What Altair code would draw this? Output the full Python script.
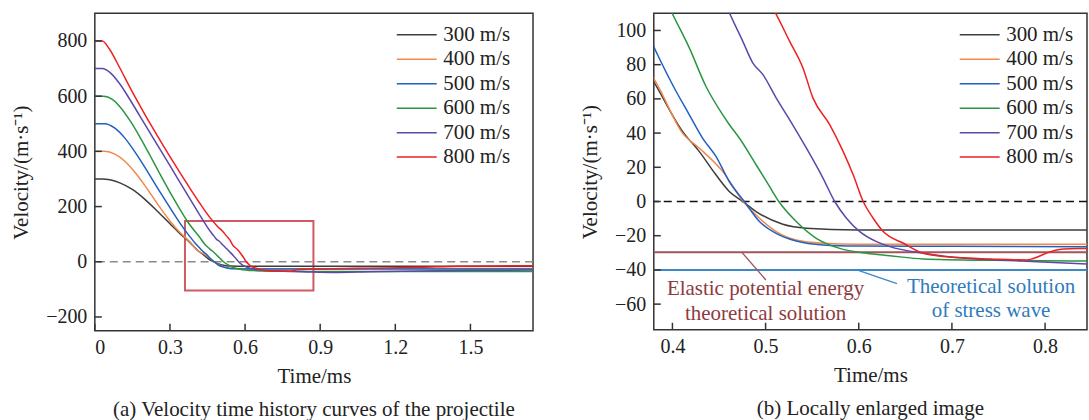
import altair as alt
import pandas as pd

FONT = "Liberation Serif"
INK = "#222222"

SPEEDS = ["300 m/s", "400 m/s", "500 m/s", "600 m/s", "700 m/s", "800 m/s"]
COLORS = ["#3d3d3d", "#f0894a", "#2060c0", "#2a9640", "#5a48aa", "#ee2020"]

# Projectile velocity histories (time in ms, velocity in m/s)
T_300 = [0, 0.03, 0.06, 0.1, 0.15, 0.2, 0.25, 0.3, 0.34, 0.3795, 0.4108, 0.4287, 0.4467,
         0.461, 0.4754, 0.4898, 0.5185, 0.5437, 0.5976, 0.7, 0.85, 1.0, 1.2, 1.4, 1.6, 1.75]
V_300 = [300, 300, 297, 286, 262, 226, 183, 138, 102, 70.4, 41, 29.3, 15.6,
         5.9, 0, -5.9, -13.3, -15.6, -16.6, -16.6, -16.6, -16.6, -16.5, -16.5, -16.5, -16.5]

T_400 = [0, 0.04, 0.08, 0.12, 0.16, 0.2, 0.25, 0.3, 0.34, 0.38, 0.3856, 0.4108, 0.4287,
         0.4539, 0.4754, 0.4934, 0.5113, 0.5329, 0.5616, 0.5976, 0.7, 0.85, 1.0, 1.2,
         1.4, 1.6, 1.75]
V_400 = [400, 400, 390, 364, 324, 276, 210, 148, 106, 72, 66.5, 40, 31.3,
         17.6, 0.4, -9.8, -17.6, -22.5, -24.4, -25, -25, -25, -25, -24.5,
         -24.5, -24.5, -24.5]

T_500 = [0, 0.04, 0.08, 0.12, 0.16, 0.2, 0.25, 0.3, 0.34, 0.3795, 0.3874, 0.4, 0.418,
         0.4323, 0.4467, 0.461, 0.4772, 0.4934, 0.5113, 0.5329, 0.5616, 0.5976, 0.7,
         0.85, 1.0, 1.2, 1.4, 1.6, 1.75]
V_500 = [500, 500, 484, 448, 398, 342, 268, 196, 140, 91, 82, 68.4, 50.8,
         37.1, 26.4, 11.7, 0, -11.7, -18.6, -23.1, -25.4, -26, -26.2,
         -26.4, -26.5, -26.5, -26.5, -26.5, -26.5]

T_600 = [0, 0.035, 0.07, 0.1, 0.14, 0.18, 0.22, 0.26, 0.3, 0.34, 0.37, 0.3993, 0.418,
         0.4359, 0.4539, 0.461, 0.4718, 0.4898, 0.5042, 0.5142, 0.5329, 0.5544, 0.5796,
         0.6083, 0.6333, 0.6694, 0.7414, 0.8477, 1.0, 1.2, 1.4, 1.6, 1.75]
V_600 = [600, 600, 588, 562, 512, 452, 386, 318, 252, 190, 146, 110.5, 90,
         67.4, 50.8, 45, 37.1, 21.5, 8.8, 0, -11.7, -21.5, -27.4,
         -30.3, -31.7, -33.6, -34.4, -34.8, -35, -35, -35, -35, -35]

T_700 = [0, 0.03, 0.06, 0.1, 0.14, 0.18, 0.22, 0.26, 0.3, 0.34, 0.38, 0.42, 0.461,
         0.4754, 0.4862, 0.497, 0.5113, 0.5257, 0.5437, 0.5616, 0.5742, 0.5868, 0.6011,
         0.6191, 0.6333, 0.6694, 0.7053, 0.7773, 0.8477, 0.95, 1.1, 1.3, 1.5, 1.75]
V_700 = [700, 700, 686, 644, 588, 528, 468, 408, 348, 288, 228, 168, 110.5,
         93.8, 81.1, 74.3, 60.6, 47.9, 31.3, 13.7, 0, -9.8, -17.6,
         -23.5, -26.4, -30.3, -32.8, -34.8, -36.6, -38.5, -36, -33, -31, -30]

T_800 = [0, 0.03, 0.06, 0.1, 0.14, 0.18, 0.22, 0.26, 0.3, 0.34, 0.38, 0.42, 0.46, 0.49,
         0.5103, 0.5257, 0.54, 0.5508, 0.5688, 0.5832, 0.594, 0.6048, 0.6155, 0.6263,
         0.6479, 0.6694, 0.7053, 0.7414, 0.7809, 0.788, 0.806, 0.82, 0.8477, 0.95, 1.1,
         1.3, 1.45, 1.6, 1.75]
V_800 = [800, 800, 768, 702, 632, 566, 502, 441, 381, 323, 266, 211, 160, 128,
         110.5, 93.8, 78.2, 60.6, 45, 29.3, 15.6, 0, -9.8, -17.6,
         -24.4, -30.3, -32.8, -33.6, -34.2, -33.2, -29.3, -27.8, -27.4, -25, -23,
         -20, -16, -15, -14]

# Theoretical rebound velocities (m/s)
ELASTIC_V = -29.6
STRESS_WAVE_V = -40.0

# Region enlarged in panel (b)
BOX_T = [0.36, 0.873]
BOX_V = [-104, 148]

# Axis ticks
XT_A = [0, 0.3, 0.6, 0.9, 1.2, 1.5]
YT_A = [-200, 0, 200, 400, 600, 800]
XT_B = [0.4, 0.5, 0.6, 0.7, 0.8]
YT_B = [-60, -40, -20, 0, 20, 40, 60, 80, 100]

# Annotation labels and leader lines in panel (b)
ELASTIC_TEXT = ["Elastic potential energy", "theoretical solution"]
ELASTIC_TEXT_T = [0.50, 0.50]
ELASTIC_TEXT_V = [-54.8, -69.2]
WAVE_TEXT = ["Theoretical solution", "of stress wave"]
WAVE_TEXT_T = [0.742, 0.742]
WAVE_TEXT_V = [-53.4, -67.4]
ELASTIC_LEADER = {"t1": [0.4743], "v1": [-29.6], "t2": [0.5003], "v2": [-45.9]}
WAVE_LEADER = {"t1": [0.598], "v1": [-40.0], "t2": [0.641], "v2": [-48.0]}
ELASTIC_TEXT_COLOR, ELASTIC_LINE_COLOR = "#8e3a40", "#a0555a"
WAVE_TEXT_COLOR, WAVE_LINE_COLOR = "#2f7bbb", "#3f87c5"

rows = []
for name, ts, vs in zip(SPEEDS, [T_300, T_400, T_500, T_600, T_700, T_800],
                        [V_300, V_400, V_500, V_600, V_700, V_800]):
    for t, v in zip(ts, vs):
        rows.append({"speed": name, "t": t, "v": v})
curves = pd.DataFrame(rows)

WA, HA = 439, 318
WB, HB = 434, 317
TICK = 7
Y_TITLE = "Velocity/(m·s⁻¹)"


def legend(x):
    # 40 px stroke drawn with a custom path so the rows stay compact
    return alt.Legend(title=None, orient="none", legendX=x, legendY=11,
                      symbolType="M-4,0H4", symbolSize=100, symbolStrokeWidth=1.5,
                      labelFont=FONT, labelFontSize=21, labelColor=INK,
                      rowPadding=2.5, labelOffset=16, padding=0)


class Panel:
    def __init__(self, xdom, ydom, xt, yt, xfmt):
        self.xs = alt.Scale(domain=xdom, nice=False, zero=False)
        self.ys = alt.Scale(domain=ydom, nice=False, zero=False)
        self.xa = alt.Axis(values=xt, format=xfmt, title="Time/ms", grid=False,
                           domain=False, ticks=False, tickSize=0, labelPadding=7,
                           titlePadding=8, labelFont=FONT, labelFontSize=20,
                           labelColor=INK, titleFont=FONT, titleFontSize=21,
                           titleFontWeight="normal", titleColor=INK)
        self.ya = alt.Axis(values=yt, format="d", title=Y_TITLE, grid=False,
                           domain=False, ticks=False, tickSize=0, labelPadding=8,
                           titlePadding=14, labelFont=FONT, labelFontSize=20,
                           labelColor=INK, titleFont=FONT, titleFontSize=21,
                           titleFontWeight="normal", titleColor=INK)

    def X(self, field):
        return alt.X(field, scale=self.xs, axis=self.xa)

    def Y(self, field):
        return alt.Y(field, scale=self.ys, axis=self.ya)


def build(p, xt, yt, w, h, legend_x, caption, dash_color, extra):
    zero = alt.Chart(pd.DataFrame({"v": [0]})).mark_rule(
        strokeDash=[8, 5], color=dash_color, strokeWidth=1.4
    ).encode(y=p.Y("v:Q"))
    lines = alt.Chart(curves).mark_line(
        strokeWidth=1.5, interpolate="monotone", clip=True
    ).encode(
        x=p.X("t:Q"),
        y=p.Y("v:Q"),
        color=alt.Color("speed:N", scale=alt.Scale(domain=SPEEDS, range=COLORS),
                        legend=legend(legend_x)),
    )
    xticks = alt.Chart(pd.DataFrame({"t": xt})).mark_rule(
        color="#333333", strokeWidth=1.5
    ).encode(x=p.X("t:Q"), y=alt.value(h), y2=alt.value(h - TICK))
    yticks = alt.Chart(pd.DataFrame({"v": yt})).mark_rule(
        color="#333333", strokeWidth=1.5
    ).encode(y=p.Y("v:Q"), x=alt.value(0), x2=alt.value(TICK))
    layers = [zero] + extra(p) + [lines, xticks, yticks]
    return alt.layer(*layers).properties(
        width=w, height=h,
        title=alt.Title(caption, orient="bottom", anchor="middle", frame="group",
                        font=FONT, fontSize=21, fontWeight="normal", color=INK,
                        offset=12),
    )


def extra_a(p):
    box = pd.DataFrame({"t1": [BOX_T[0]], "t2": [BOX_T[1]],
                        "v1": [BOX_V[0]], "v2": [BOX_V[1]]})
    return [alt.Chart(box).mark_rect(fillOpacity=0, stroke="#cf5a63", strokeWidth=2).encode(
        x=p.X("t1:Q"), x2="t2:Q", y=p.Y("v1:Q"), y2="v2:Q")]


def extra_b(p):
    out = []
    for v, col in [(ELASTIC_V, ELASTIC_LINE_COLOR), (STRESS_WAVE_V, WAVE_LINE_COLOR)]:
        out.append(alt.Chart(pd.DataFrame({"v": [v]})).mark_rule(
            color=col, strokeWidth=2).encode(y=p.Y("v:Q")))
    for lead, col in [(ELASTIC_LEADER, ELASTIC_LINE_COLOR), (WAVE_LEADER, WAVE_LINE_COLOR)]:
        out.append(alt.Chart(pd.DataFrame(lead)).mark_rule(
            color=col, strokeWidth=1.3).encode(
            x=p.X("t1:Q"), x2="t2:Q", y=p.Y("v1:Q"), y2="v2:Q"))
    for texts, ts, vs, col in [(ELASTIC_TEXT, ELASTIC_TEXT_T, ELASTIC_TEXT_V, ELASTIC_TEXT_COLOR),
                               (WAVE_TEXT, WAVE_TEXT_T, WAVE_TEXT_V, WAVE_TEXT_COLOR)]:
        notes = pd.DataFrame({"t": ts, "v": vs, "text": texts})
        out.append(alt.Chart(notes).mark_text(
            font=FONT, fontSize=21, align="center", baseline="alphabetic", color=col
        ).encode(x=p.X("t:Q"), y=p.Y("v:Q"), text="text:N"))
    return out


pa = Panel([0, 1.75], [-250, 900], XT_A, YT_A, "~g")
pb = Panel([0.38, 0.845], [-75, 110], XT_B, YT_B, ".1f")

left = build(pa, XT_A, YT_A, WA, HA, 312,
             "(a) Velocity time history curves of the projectile", "#8a8a8a", extra_a)
right = build(pb, XT_B, YT_B, WB, HB, 316,
              "(b) Locally enlarged image", "#111111", extra_b)

chart = alt.hconcat(left, right, spacing=43).resolve_scale(
    color="independent", x="independent", y="independent"
).resolve_legend(color="independent").properties(
    padding={"left": 9, "top": 12, "right": 0, "bottom": 0}
).configure_view(stroke="#333333", strokeWidth=1.5)

chart.save("out.html", embed_options={"renderer": "svg", "actions": False})
